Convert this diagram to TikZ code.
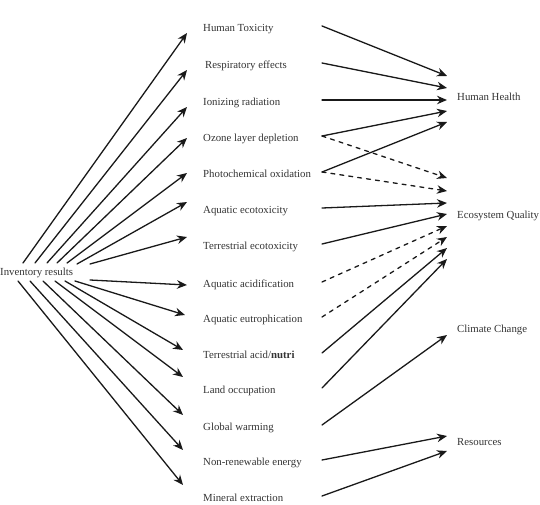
\documentclass[tikz,border=0pt]{standalone}
\usepackage{fontspec}
\setmainfont{Liberation Serif}
\usetikzlibrary{arrows.meta,calc}

\begin{document}
\begin{tikzpicture}[x=1pt, y=1pt, font=\fontsize{10.8}{12}\selectfont, line join=round, line cap=round,
		>={Stealth[length=10pt,width=8.5pt]},
		lbl/.style={anchor=west, inner sep=0pt, text height=8pt, text depth=1.5pt, text=black!80},
		arr/.style={->, line width=1.3pt, black!90},
		dsh/.style={arr, dash pattern=on 4pt off 5pt}]
	\useasboundingbox (0,0) rectangle (540,-505);
	\path
	(0,-272) node[lbl] (inv) {Inventory results}
	(457,-97) node[lbl] (hh) {Human Health}
	(457,-215) node[lbl] (eq) {Ecosystem Quality}
	(457,-329) node[lbl] (cc) {Climate Change}
	(457,-442) node[lbl] (res) {Resources}
	(322,0) coordinate (rx)
	;
	% midpoint categories
	\foreach \n/\x/\t/\y in {ht/203/Human Toxicity/28, re/205/Respiratory effects/65,
		ir/203/Ionizing radiation/102, od/203/Ozone layer depletion/138,
		po/203/Photochemical oxidation/174, ae/203/Aquatic ecotoxicity/210,
		te/203/Terrestrial ecotoxicity/246, aa/203/Aquatic acidification/284,
		au/203/Aquatic eutrophication/319, tn/203/{Terrestrial acid/\textbf{nutri}}/355,
		lo/203/Land occupation/390, gw/203/Global warming/427,
		nr/203/Non-renewable energy/462, me/203/Mineral extraction/498}
		{\node[lbl] (\n) at (\x,-\y) {\t};}
	% fan out of the inventory
	\foreach \n/\sx/\sy/\dx/\dy in {ht/23/9/-16/-5, re/35/9/-18/-5, ir/47/9/-16/-5,
		od/57/9/-16/0, po/67/9/-16/1, ae/77/8/-16/8, te/90/8/-16/9,
		aa/90/-8/-16/-1, au/75/-9/-18/4, tn/65/-9/-20/5, lo/55/-9/-20/13,
		gw/43/-9/-20/12, nr/30/-9/-20/12, me/18/-9/-20/13}
		{\draw[arr] ($(inv.west)+(\sx,\sy)$) -- ($(\n.west)+(\dx,\dy)$);}
	% endpoints
	\foreach \a/\b/\d/\s in {ht/hh/21/arr, re/hh/9/arr, ir/hh/-3/arr, od/hh/-14/arr,
		po/hh/-25/arr, od/eq/37/dsh, po/eq/24/dsh, ae/eq/12/arr, te/eq/1/arr,
		aa/eq/-11/dsh, au/eq/-22/dsh, tn/eq/-33/arr, lo/eq/-44/arr,
		gw/cc/-6/arr, nr/res/6/arr, me/res/-9/arr}
		{\draw[\s] ($(\a.west -| rx)+(0,2)$) -- ($(\b.west)+(-10,\d)$);}
\end{tikzpicture}
\end{document}
